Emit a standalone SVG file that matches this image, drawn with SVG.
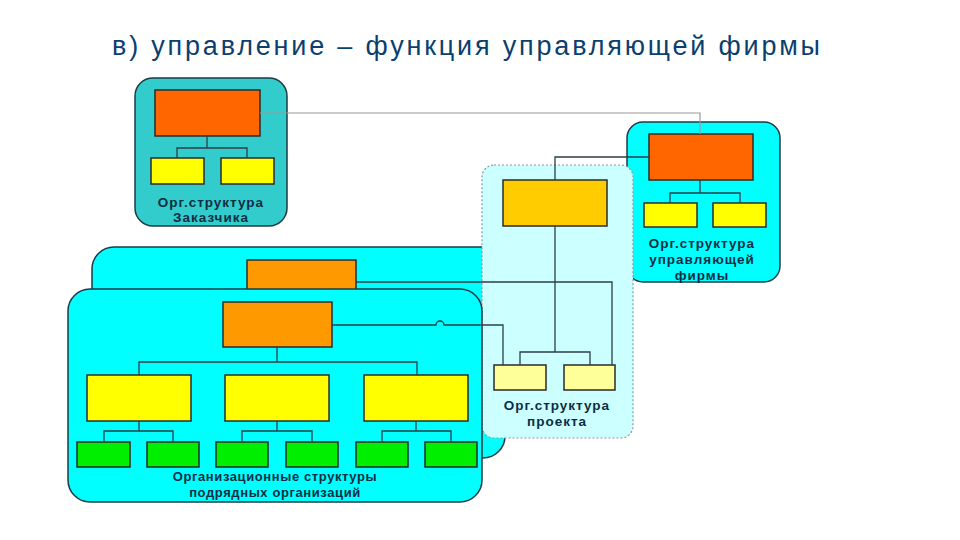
<svg xmlns="http://www.w3.org/2000/svg" width="960" height="540" viewBox="0 0 960 540">
<style>
.panel{stroke:#1d3b45;stroke-width:1.5}
.box{stroke:#2b2b2b;stroke-width:1.5}
.ln{fill:none;stroke:#2b3f47;stroke-width:1.3}
.lbl{font-family:"Liberation Sans",Arial,sans-serif;font-weight:bold;font-size:13.5px;fill:#0d2d44;text-anchor:middle;letter-spacing:1px}
.lbl2{font-family:"Liberation Sans",Arial,sans-serif;font-weight:bold;font-size:13px;fill:#0d2d44;text-anchor:middle;letter-spacing:0.6px}
.title{font-family:"Liberation Sans",Arial,sans-serif;font-size:27px;fill:#0b3f6e}
</style>
<rect width="960" height="540" fill="#fff"/>
<text class="title" x="112" y="55" textLength="708" lengthAdjust="spacing">в) управление – функция управляющей фирмы</text>

<g id="customer">
<rect class="panel" x="135" y="78" width="152" height="148" rx="18" fill="#33cccc"/>
<rect class="box" x="155" y="90" width="105" height="46" fill="#ff6600"/>
<rect class="box" x="151" y="158" width="53" height="26" fill="#ffff00"/>
<rect class="box" x="221" y="158" width="53" height="26" fill="#ffff00"/>
<path class="ln" d="M207 136V148M177 158V148H247V158"/>
<text class="lbl" x="211" y="207">Орг.структура</text>
<text class="lbl" x="211" y="222">Заказчика</text>
</g>

<g id="firm">
<rect class="panel" x="627" y="122" width="153" height="160" rx="16" fill="#00ffff"/>
<rect class="box" x="649" y="134" width="104" height="46" fill="#ff6600"/>
<rect class="box" x="644" y="203" width="53" height="24" fill="#ffff00"/>
<rect class="box" x="713" y="203" width="53" height="24" fill="#ffff00"/>
<path class="ln" d="M700 180V193M670 203V193H740V203"/>
<text class="lbl" x="702" y="248">Орг.структура</text>
<text class="lbl" x="702" y="264">управляющей</text>
<text class="lbl" x="702" y="280">фирмы</text>
</g>

<g id="contractor-back">
<rect class="panel" x="92" y="247" width="413" height="211" rx="22" fill="#00ffff"/>
<rect class="box" x="247" y="260" width="109" height="40" fill="#ff9900"/>
</g>

<g id="project">
<rect x="482" y="165" width="151" height="273" rx="12" fill="#ccffff" stroke="#8a9aa0" stroke-width="1.2" stroke-dasharray="2 2"/>
<rect class="box" x="503" y="180" width="104" height="46" fill="#ffcc00"/>
<rect class="box" x="494" y="365" width="52" height="25" fill="#ffff99"/>
<rect class="box" x="564" y="365" width="51" height="25" fill="#ffff99"/>
<path class="ln" d="M555 226V352M520 365V352H590V365"/>
<text class="lbl" x="557" y="410">Орг.структура</text>
<text class="lbl" x="557" y="426">проекта</text>
</g>

<g id="contractor-front">
<rect class="panel" x="68" y="289" width="414" height="213" rx="22" fill="#00ffff"/>
<rect class="box" x="223" y="302" width="109" height="45" fill="#ff9900"/>
<rect class="box" x="87" y="375" width="104" height="46" fill="#ffff00"/>
<rect class="box" x="225" y="375" width="104" height="46" fill="#ffff00"/>
<rect class="box" x="364" y="375" width="104" height="46" fill="#ffff00"/>
<rect class="box" x="77" y="442" width="53" height="25" fill="#00ee00"/>
<rect class="box" x="147" y="442" width="52" height="25" fill="#00ee00"/>
<rect class="box" x="216" y="442" width="52" height="25" fill="#00ee00"/>
<rect class="box" x="286" y="442" width="52" height="25" fill="#00ee00"/>
<rect class="box" x="356" y="442" width="52" height="25" fill="#00ee00"/>
<rect class="box" x="425" y="442" width="52" height="25" fill="#00ee00"/>
<path class="ln" d="M277 347V362M139 375V362H417V375"/>
<path class="ln" d="M139 421V431M104 442V431H173V442"/>
<path class="ln" d="M277 421V431M242 442V431H312V442"/>
<path class="ln" d="M416 421V431M382 442V431H451V442"/>
<text class="lbl2" x="275" y="481">Организационные структуры</text>
<text class="lbl2" x="275" y="497">подрядных организаций</text>
</g>

<g id="connectors">
<path d="M260 113H700V134" fill="none" stroke="#9a9a9a" stroke-width="1.2"/>
<path class="ln" d="M649 157H555V180"/>
<path class="ln" d="M356 282H612V365"/>
<path class="ln" d="M332 325H436A4 4 0 0 1 444 325H503V365"/>
</g>
</svg>
